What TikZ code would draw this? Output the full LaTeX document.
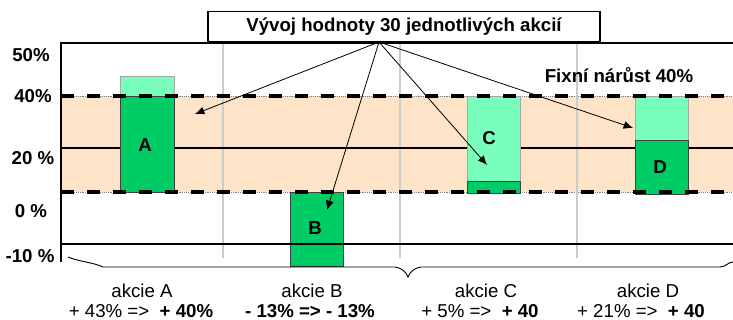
\documentclass[tikz,border=0pt]{standalone}
\usepackage{fontspec}
\setmainfont{Liberation Sans}
\usetikzlibrary{arrows.meta}

\definecolor{peach}{HTML}{FDE3C8}
\definecolor{mint}{HTML}{77FFBB}
\definecolor{leaf}{HTML}{00CC66}

\begin{document}
\begin{tikzpicture}
  [x=0.75pt,y=-0.75pt,
    txt/.style={font=\fontsize{14}{16}\selectfont},
    bold/.style={font=\fontsize{14}{16}\selectfont\bfseries},
    light/.style={fill=mint,draw=gray!70},
    dark/.style={fill=leaf,draw=black!75},
    limit/.style={line width=2.6pt,dash pattern=on 10pt off 9.5pt},
    grid/.style={draw=gray!40,line width=0.8pt},
    pointer/.style={-{Latex[length=7pt,width=6pt]},line width=0.6pt}]
  \useasboundingbox (0,0) rectangle (733,320);
  % band between the two limits
  \fill[peach] (61,96) rectangle (733,192);
  \draw[gray,densely dotted] (61,96) -- (733,96) (61,192) -- (733,192);
  \foreach \x in {223,400,577}
    \draw[grid] (\x,43) -- (\x,258);
  \draw[line width=0.8pt] (61,148) -- (733,148);
  % bars
  \draw[light] (120,76) rectangle (174,96);
  \draw[dark] (120,96) rectangle (174,192);
  \draw[dark] (290,192) rectangle (343,266);
  \draw[light] (467,96) rectangle (520,181);
  \draw[dark] (467,181) rectangle (520,193);
  \draw[light] (635,96) rectangle (688,140);
  \draw[dark] (635,140) rectangle (688,194);
  \node[bold] (A) at (145,145) {A};
  \node[bold] (B) at (315,228) {B};
  \node[bold] (C) at (489,138) {C};
  \node[bold] (D) at (660,167) {D};
  % limits and frame
  \draw[limit] (61,96) -- (733,96);
  \draw[limit] (61,192) -- (733,192);
  \draw[line width=0.8pt] (61,244) -- (733,244);
  \draw[line width=1.2pt] (61,262) -- (61,43) -- (733,43);
  \draw[line width=0.7pt] (68,257) .. controls (80,262) and (92,262) .. (103,267)
    -- (395,267) .. controls (402,268) and (406,272) .. (408,277)
    .. controls (410,272) and (414,268) .. (421,267)
    -- (720,267) .. controls (726,267) and (728,262) .. (733,262);
  % axis
  \node[bold] (p50) at (31,55) {50\%};
  \node[bold] (p40) at (33,96) {40\%};
  \node[bold] (p20) at (33,158) {20 \%};
  \node[bold] (p0) at (31,211) {0 \%};
  \node[bold] (m10) at (30,256) {-10 \%};
  \node[bold] (fixed) at (619,75) {Fixní nárůst 40\%};
  % pointers from the title
  \coordinate (hub) at (379,42);
  \coordinate (toA) at (195,114);
  \coordinate (toB) at (327,210);
  \coordinate (toC) at (487,165);
  \coordinate (toD) at (633,128);
  \foreach \t in {toA,toB,toC,toD}
    \draw[pointer] (hub) -- (\t);
  \node[bold,draw,fill=white,line width=0.8pt,minimum width=294pt,
    minimum height=22pt] (title) at (404,26.5) {Vývoj hodnoty 30 jednotlivých akcií};
  % captions
  \node[txt] (nameA) at (142,291) {akcie A};
  \node[txt] (gainA) at (141,311) {+ 43\% =>\ \ \textbf{+ 40\%}};
  \node[txt] (nameB) at (312,291) {akcie B};
  \node[txt] (gainB) at (310,311) {\textbf{- 13\% => - 13\%}};
  \node[txt] (nameC) at (486,291) {akcie C};
  \node[txt] (gainC) at (480,311) {+ 5\% =>\ \ \textbf{+ 40}};
  \node[txt] (nameD) at (648,291) {akcie D};
  \node[txt] (gainD) at (641,311) {+ 21\% =>\ \ \textbf{+ 40}};
\end{tikzpicture}
\end{document}
